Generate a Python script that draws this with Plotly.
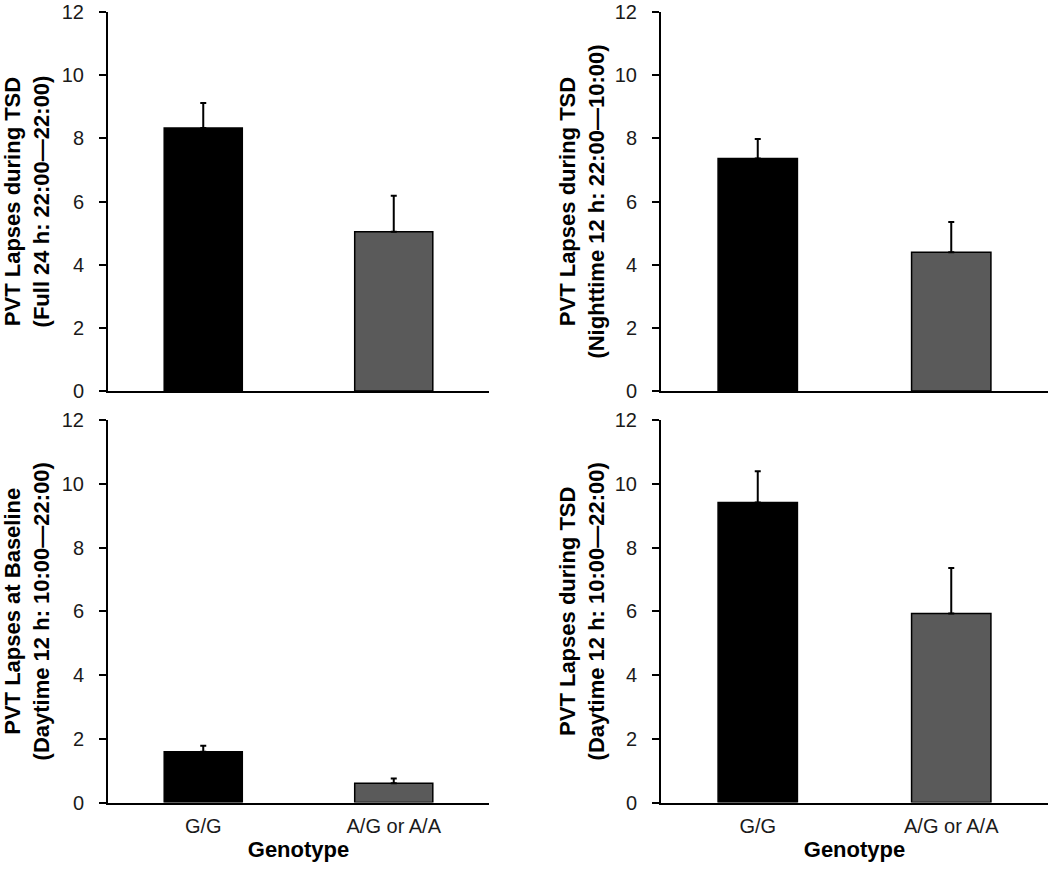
import plotly.graph_objects as go
from plotly.subplots import make_subplots

# genotype groups on the x axis
genotypes = ["G/G", "A/G or A/A"]

# mean PVT lapses per panel, with the upper error (SEM)
full24_mean = [8.33, 5.04]
full24_err = [0.79, 1.14]

night_mean = [7.36, 4.39]
night_err = [0.62, 0.96]

baseline_mean = [1.59, 0.60]
baseline_err = [0.19, 0.15]

day_tsd_mean = [9.41, 5.93]
day_tsd_err = [0.98, 1.43]

y_titles = [
    "PVT Lapses during TSD<br>(Full 24 h: 22:00\u201422:00)",
    "PVT Lapses during TSD<br>(Nighttime 12 h: 22:00\u201410:00)",
    "PVT Lapses at Baseline<br>(Daytime 12 h: 10:00\u201422:00)",
    "PVT Lapses during TSD<br>(Daytime 12 h: 10:00\u201422:00)",
]
y_ticks = [0, 2, 4, 6, 8, 10, 12]

bar_colors = ["#000000", "#5a5a5a"]
FONT = "Liberation Sans, Arial, sans-serif"

W, H = 1050, 869

fig = make_subplots(rows=2, cols=2)

panels = [
    (1, 1, full24_mean, full24_err),
    (1, 2, night_mean, night_err),
    (2, 1, baseline_mean, baseline_err),
    (2, 2, day_tsd_mean, day_tsd_err),
]

for row, col, means, errs in panels:
    fig.add_trace(
        go.Bar(
            x=genotypes,
            y=means,
            width=0.41,
            marker=dict(color=bar_colors, line=dict(color="#000000", width=1.5)),
            error_y=dict(
                type="data",
                symmetric=False,
                array=errs,
                arrayminus=[0, 0],
                color="#000000",
                thickness=2,
                width=3,
            ),
            showlegend=False,
        ),
        row=row,
        col=col,
    )

# pixel positions of the plot areas, converted to paper fractions
left_x = [108 / W, 489 / W]
right_x = [661 / W, 1048 / W]
top_y = [1 - 391 / H, 1 - 12 / H]
bottom_y = [1 - 802.5 / H, 1 - 420 / H]

domains = {
    1: (left_x, top_y),
    2: (right_x, top_y),
    3: (left_x, bottom_y),
    4: (right_x, bottom_y),
}

for i in range(1, 5):
    xd, yd = domains[i]
    suffix = "" if i == 1 else str(i)
    fig.layout["xaxis" + suffix].update(
        domain=xd,
        range=[-0.5, 1.5],
        automargin=False,
        showline=True,
        linecolor="#000000",
        linewidth=2,
        ticks="",
        showgrid=False,
        zeroline=False,
        showticklabels=i > 2,
        tickfont=dict(family=FONT, size=20, color="#1a1a1a"),
        ticklabelstandoff=4,
    )
    fig.layout["yaxis" + suffix].update(
        domain=yd,
        range=[0, 12],
        tickvals=y_ticks,
        automargin=False,
        ticklabeloverflow="allow",
        showline=True,
        linecolor="#000000",
        linewidth=2,
        ticks="outside",
        ticklen=7,
        tickwidth=2,
        tickcolor="#000000",
        showgrid=False,
        zeroline=False,
        tickfont=dict(family=FONT, size=20, color="#1a1a1a"),
        ticklabelstandoff=11,
        title=dict(
            text="<b>" + y_titles[i - 1] + "</b>",
            font=dict(family=FONT, size=22, color="#000000"),
            standoff=15 if i % 2 == 1 else 4,
        ),
    )
    if i > 2:
        fig.layout["xaxis" + suffix].title = dict(
            text="<b>Genotype</b>",
            font=dict(family=FONT, size=22, color="#000000"),
            standoff=6,
        )

fig.update_layout(
    width=W,
    height=H,
    margin=dict(l=0, r=0, t=0, b=0),
    paper_bgcolor="#ffffff",
    plot_bgcolor="#ffffff",
    bargap=0.5,
)

# the page body has a default 8px margin; drop it so the figure sits at 0,0
fig.write_html(
    "out.html",
    config={"displayModeBar": False},
    post_script="document.body.style.margin = '0';",
)
